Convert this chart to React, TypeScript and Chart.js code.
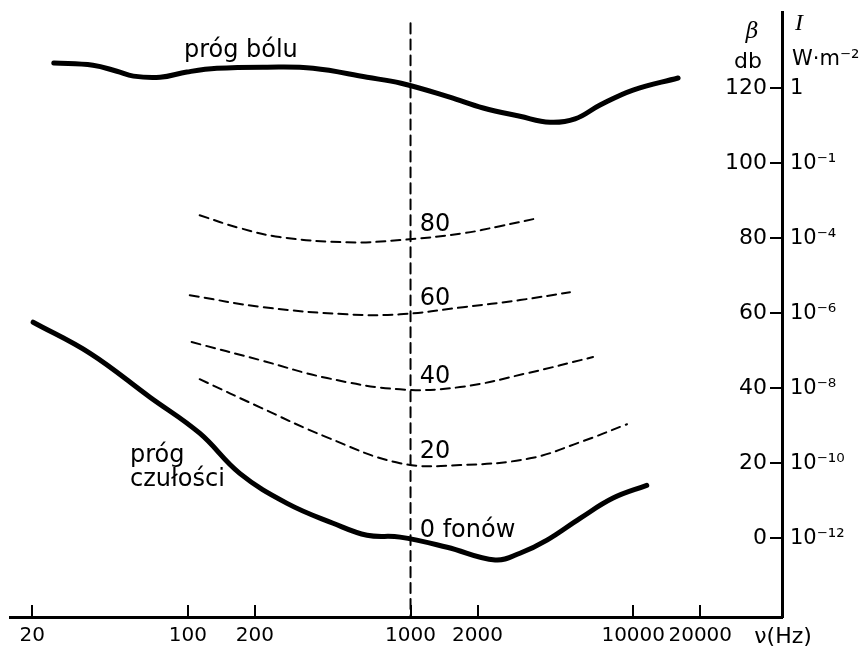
import React, { useEffect, useRef } from "react";
import { Chart, registerables } from "chart.js";

Chart.register(...registerables);

// Axis ticks
const FREQ_TICKS = [20, 100, 200, 1000, 2000, 10000, 20000];
const DB_TICKS = [0, 20, 40, 60, 80, 100, 120];
const INTENSITY_LABELS = ["10⁻¹²", "10⁻¹⁰", "10⁻⁸", "10⁻⁶", "10⁻⁴", "10⁻¹", "1"];

// Próg bólu (threshold of pain)
const painHz = [25, 37.5, 48, 57, 75, 99, 135, 227, 365, 638, 907, 1500, 2120, 3100, 4230, 5480, 7100, 9980, 15900];
const painDb = [126.7, 126.1, 124.5, 123.2, 122.9, 124.3, 125.3, 125.6, 125.3, 122.9, 121.3, 117.6, 114.7, 112.5, 110.9, 111.8, 115.5, 119.5, 122.7];

// Equal loudness contours (fony)
const phon80Hz = [113, 171, 259, 519, 897, 1720, 2520, 3700];
const phon80Db = [86.1, 82.7, 80.3, 78.9, 79.5, 81.3, 83.2, 85.3];

const phon60Hz = [102, 218, 519, 897, 1720, 3100, 5200];
const phon60Db = [64.8, 61.6, 59.7, 59.7, 61.6, 63.5, 65.6];

const phon40Hz = [104, 211, 422, 897, 1670, 3340, 6600];
const phon40Db = [52.3, 47.5, 42.7, 39.7, 40.3, 44.0, 48.3];

const phon20Hz = [113, 211, 422, 897, 1670, 3440, 5770, 9380];
const phon20Db = [42.4, 34.9, 26.9, 20.0, 19.5, 21.3, 25.6, 30.4];

// Próg czułości (threshold of hearing, 0 fonów)
const hearHz = [20.2, 36.4, 67.6, 113, 171, 279, 449, 638, 897, 1460, 2400, 3100, 4100, 5770, 8120, 11500];
const hearDb = [57.6, 49.3, 37.6, 28.0, 17.3, 9.3, 4.0, 0.8, 0.3, -2.4, -5.8, -4.0, -0.5, 5.3, 10.7, 14.1];

// Reference line at 1000 Hz
const refHz = [1000, 1000];
const refDb = [137.3, -21];

// Text annotations in data coordinates
const CURVE_TEXTS = [
  { text: "próg bólu", hz: 173, db: 128.2, align: "center" },
  { text: "80", hz: 1100, db: 81.9, align: "left" },
  { text: "60", hz: 1100, db: 62.1, align: "left" },
  { text: "40", hz: 1100, db: 41.3, align: "left" },
  { text: "20", hz: 1100, db: 21.3, align: "left" },
  { text: "0 fonów", hz: 1100, db: 0.3, align: "left" },
  { text: "próg", hz: 55, db: 20.2, align: "left" },
  { text: "czułości", hz: 55, db: 14.0, align: "left" },
];

const X_MIN = 15.9;
const X_MAX = 46570;
const DB_LABEL_X = 39870; // where the dB tick labels end, just left of the axis
const Y_MIN = -21;
const Y_MAX = 140.3;

const SANS = "'DejaVu Sans', sans-serif";

const toPoints = (hz: number[], db: number[]) => hz.map((h, i) => ({ x: h, y: db[i] }));

const curve = (hz: number[], db: number[], width: number, dash: number[]) => ({
  data: toPoints(hz, db),
  borderColor: "#000",
  backgroundColor: "#000",
  borderWidth: width,
  borderDash: dash,
  borderCapStyle: "round" as const,
  pointRadius: 0,
  fill: false,
  tension: 0.4,
});

const textPlugin = {
  id: "textPlugin",
  afterDraw(chart: any) {
    const { ctx, scales, chartArea } = chart;
    const xs = scales.x;
    const ys = scales.y;
    ctx.save();
    ctx.fillStyle = "#000";
    ctx.textBaseline = "alphabetic";
    ctx.font = `24px ${SANS}`;
    CURVE_TEXTS.forEach((t) => {
      ctx.textAlign = t.align;
      ctx.fillText(t.text, xs.getPixelForValue(t.hz), ys.getPixelForValue(t.db));
    });
    // axis headers
    const r = chartArea.right;
    ctx.textAlign = "center";
    ctx.font = `italic 22px 'DejaVu Serif', serif`;
    ctx.fillText("β", r - 30, ys.getPixelForValue(133.4));
    ctx.font = `22px ${SANS}`;
    ctx.fillText("db", r - 34, ys.getPixelForValue(125.3));
    ctx.textAlign = "left";
    ctx.font = `italic 24px 'Liberation Serif', serif`;
    ctx.fillText("I", r + 13, ys.getPixelForValue(135.5));
    ctx.font = `21px ${SANS}`;
    ctx.fillText("W·m⁻²", r + 10, ys.getPixelForValue(126.1));
    // frequency unit
    ctx.font = `22px ${SANS}`;
    ctx.fillText("ν(Hz)", xs.getPixelForValue(20000) + 54, chartArea.bottom + 26);
    ctx.restore();
  },
};

export default function App() {
  const canvasRef = useRef<HTMLCanvasElement | null>(null);

  useEffect(() => {
    if (!canvasRef.current) return;
    const chart = new Chart(canvasRef.current, {
      type: "line",
      data: {
        datasets: [
          curve(painHz, painDb, 5, []),
          curve(phon80Hz, phon80Db, 2, [9, 6]),
          curve(phon60Hz, phon60Db, 2, [9, 6]),
          curve(phon40Hz, phon40Db, 2, [9, 6]),
          curve(phon20Hz, phon20Db, 2, [9, 6]),
          curve(hearHz, hearDb, 5, []),
          curve(refHz, refDb, 2, [10, 6]),
        ] as any,
      },
      options: {
        animation: false,
        responsive: true,
        maintainAspectRatio: false,
        layout: { padding: { left: 10, top: 12, right: 0, bottom: 0 } },
        plugins: { legend: { display: false }, tooltip: { enabled: false } },
        scales: {
          x: {
            type: "logarithmic",
            position: "bottom",
            min: X_MIN,
            max: X_MAX,
            afterBuildTicks: (s: any) => {
              s.ticks = FREQ_TICKS.map((v) => ({ value: v }));
            },
            afterFit: (s: any) => {
              s.height = 35;
              s.paddingLeft = 0;
              s.paddingRight = 0;
            },
            ticks: {
              callback: (v: any) => String(v),
              color: "#000",
              font: { family: SANS, size: 20 },
              padding: 19,
              autoSkip: false,
              maxRotation: 0,
            },
            grid: { display: true, drawOnChartArea: false, drawTicks: true, tickLength: -12, color: "#000", lineWidth: 2 },
            border: { display: true, color: "#000", width: 3 },
          },
          y: {
            type: "linear",
            position: "right",
            min: Y_MIN,
            max: Y_MAX,
            afterBuildTicks: (s: any) => {
              s.ticks = DB_TICKS.map((v) => ({ value: v }));
            },
            afterFit: (s: any) => {
              s.width = 84;
              s.paddingTop = 0;
              s.paddingBottom = 0;
            },
            ticks: {
              callback: (v: any) => INTENSITY_LABELS[DB_TICKS.indexOf(Number(v))] ?? "",
              color: "#000",
              font: { family: SANS, size: 21 },
              padding: 20,
            },
            grid: { display: true, drawOnChartArea: false, drawTicks: true, tickLength: -12, color: "#000", lineWidth: 2 },
            border: { display: true, color: "#000", width: 3 },
          },
          yDb: {
            type: "linear",
            axis: "y",
            position: { x: DB_LABEL_X },
            min: Y_MIN,
            max: Y_MAX,
            afterBuildTicks: (s: any) => {
              s.ticks = DB_TICKS.map((v) => ({ value: v }));
            },
            afterFit: (s: any) => {
              s.paddingTop = 0;
              s.paddingBottom = 0;
            },
            ticks: {
              callback: (v: any) => String(v),
              color: "#000",
              font: { family: SANS, size: 22 },
              padding: 0,
            },
            grid: { display: false, drawOnChartArea: false, drawTicks: false },
            border: { display: false },
          },
        } as any,
      },
      plugins: [textPlugin as any],
    });
    return () => chart.destroy();
  }, []);

  return (
    <div style={{ position: "absolute", left: 0, top: 0, width: 866, height: 652, background: "#fff" }}>
      <canvas ref={canvasRef} />
    </div>
  );
}
